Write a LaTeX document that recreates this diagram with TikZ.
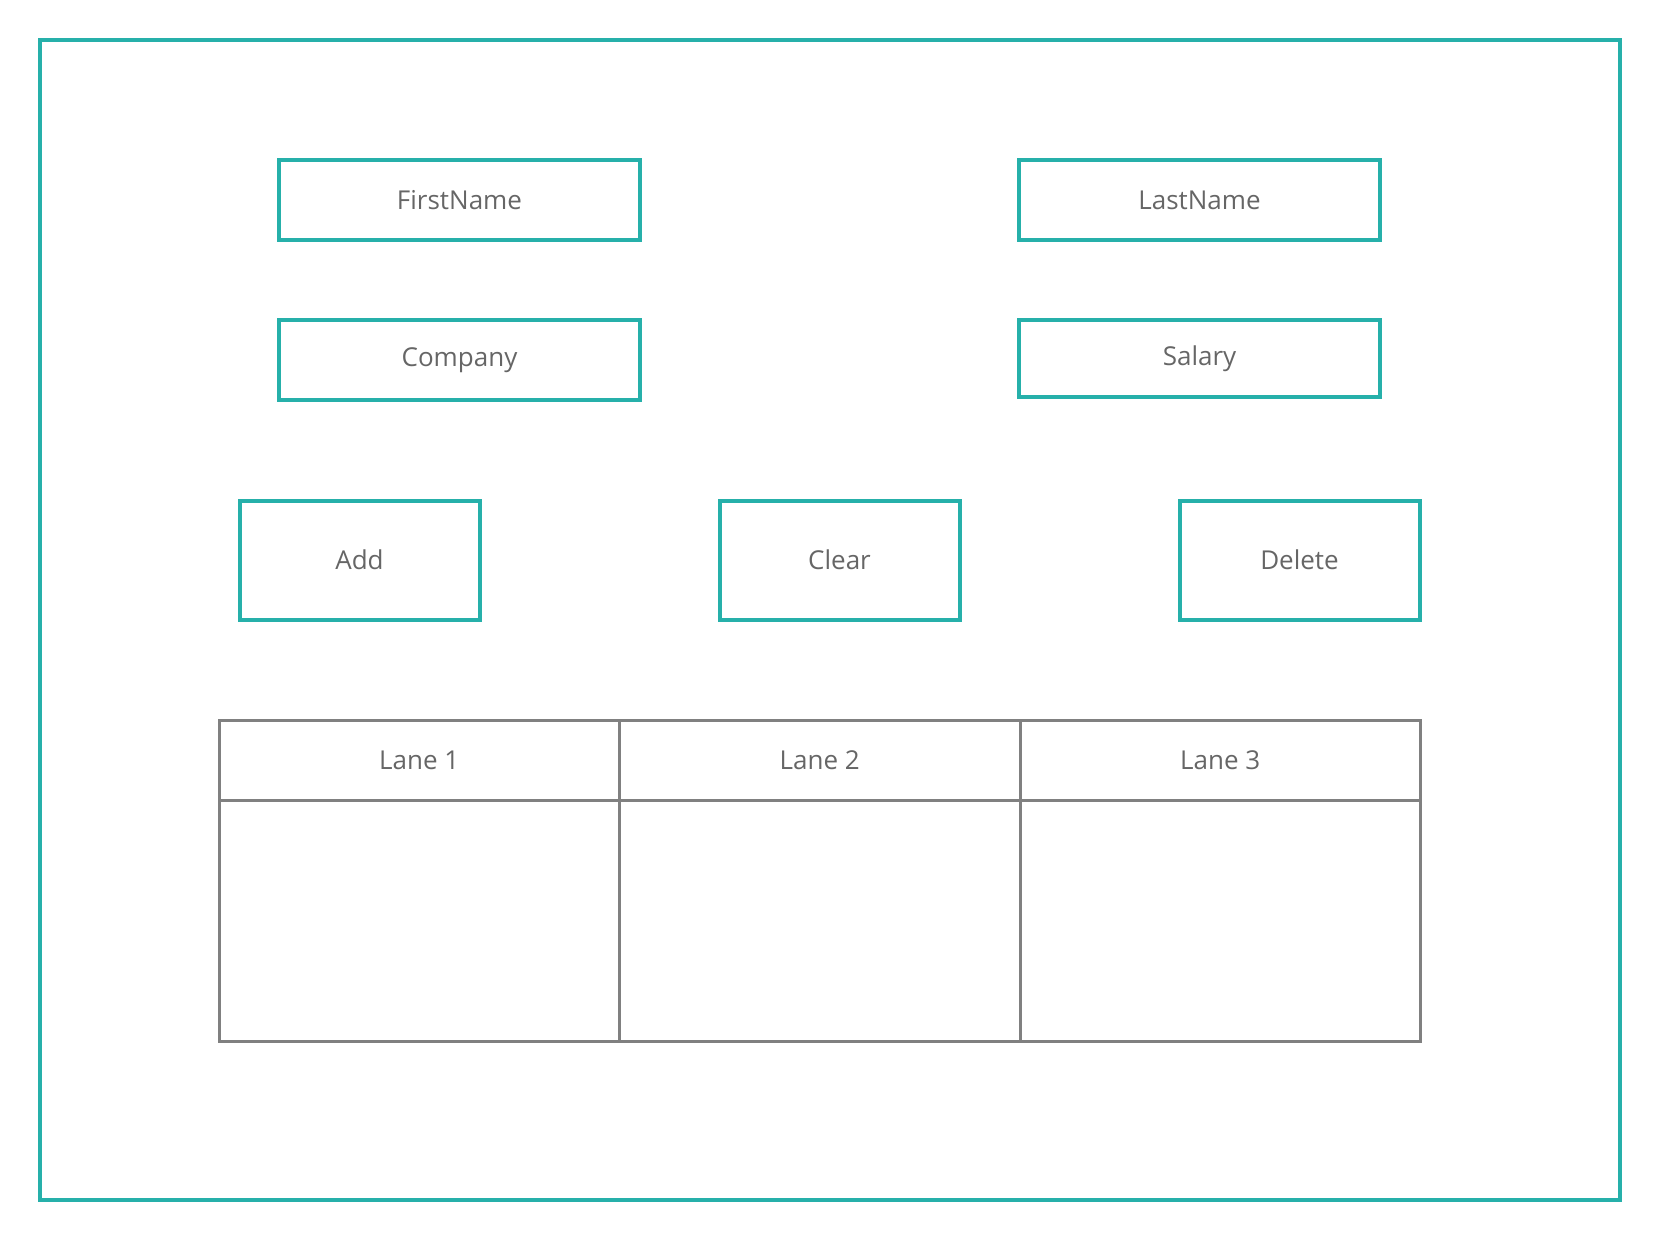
\documentclass[tikz,border=0pt]{standalone}
\usepackage{fontspec}
\setmainfont{Open Sans}
\usetikzlibrary{positioning}
\definecolor{tealline}{RGB}{38,176,170}
\definecolor{laneline}{RGB}{128,128,128}
\definecolor{labelgray}{RGB}{102,102,102}

\begin{document}
\begin{tikzpicture}[x=1pt, y=-1pt,
		field/.style={draw=tealline, line width=4pt, minimum width=361pt, minimum height=80pt, inner sep=0pt, outer sep=0pt, text=labelgray, font=\fontsize{26}{30}\selectfont},
		button/.style={field, minimum width=240pt, minimum height=119pt},
		lanehead/.style={draw=laneline, line width=3pt, minimum width=400.5pt, minimum height=80pt, inner sep=0pt, outer sep=0pt, text=labelgray, font=\fontsize{26}{30}\selectfont},
		lanebody/.style={lanehead, minimum height=241pt}]
			\useasboundingbox (0,0) rectangle (1661,1240);
			\draw[tealline, line width=4pt] (40,40) rectangle (1620,1200);
			% text fields
			\node[field] (firstname) at (459.5,200) {FirstName};
			\node[field] (lastname) at (1199.5,200) {LastName};
			\node[field] (company) at (459.5,360) {Company};
			\node[field, minimum height=77pt] (salary) at (1199.5,358.5) {Salary};
			% buttons
			\node[button] (add) at (359.5,560) {Add};
			\node[button] (clear) at (839.5,560) {Clear};
			\node[button] (delete) at (1299.5,560) {Delete};
			% lanes
			\foreach \i in {1,2,3} {
				\node[lanehead] (lane\i) at ({219+(\i-0.5)*400.5},760) {Lane \i};
				\node[lanebody, below=0pt of lane\i] (body\i) {};
			}
		\end{tikzpicture}
\end{document}
